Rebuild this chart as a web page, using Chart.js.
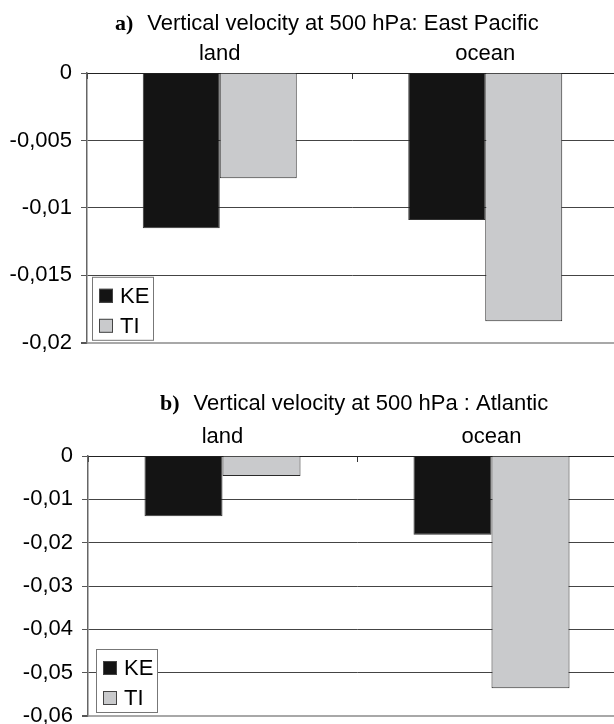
<!DOCTYPE html>
<html>
<head>
<meta charset="utf-8">
<script src="https://cdn.jsdelivr.net/npm/chart.js@4/dist/chart.umd.min.js"></script>
<style>
  html, body { margin: 0; padding: 0; background: #fff; }
  #wrap { position: relative; width: 614px; height: 724px; overflow: hidden; background: #fff; }
  #cA { position: absolute; left: 0; top: 0; }
  #cB { position: absolute; left: 0; top: 370px; }
</style>
</head>
<body>
<div id="wrap">
  <canvas id="cA" width="622" height="365"></canvas>
  <canvas id="cB" width="630" height="370"></canvas>
</div>
<script>
// ---- data ----
const categories = ['land', 'ocean'];
const seriesNames = ['KE', 'TI'];
const keEastPacific = [-0.0115, -0.0109];
const tiEastPacific = [-0.0078, -0.0184];
const keAtlantic = [-0.0139, -0.0182];
const tiAtlantic = [-0.0046, -0.0536];
const yTicksA = ['-0,02', '-0,015', '-0,01', '-0,005', '0'];
const yTicksB = ['-0,06', '-0,05', '-0,04', '-0,03', '-0,02', '-0,01', '0'];
const titleA = ['a)', 'Vertical velocity at 500 hPa: East Pacific'];
const titleB = ['b)', 'Vertical velocity at 500 hPa : Atlantic'];

const SANS = '"Liberation Sans", Arial, Helvetica, sans-serif';
const FS = 22;
Chart.defaults.font.family = SANS;
Chart.defaults.font.size = FS;
Chart.defaults.color = '#000';

const panelDecor = {
  id: 'panelDecor',
  afterDraw(chart, args, opts) {
    const ctx = chart.ctx, ca = chart.chartArea;
    ctx.save();
    ctx.textAlign = 'left';
    ctx.textBaseline = 'alphabetic';
    ctx.fillStyle = '#000';
    ctx.font = 'bold 22px "Liberation Serif", "Times New Roman", serif';
    ctx.fillText(opts.tag, opts.titleX, opts.titleY);
    const w = ctx.measureText(opts.tag).width;
    ctx.font = FS + 'px ' + SANS;
    ctx.fillText(opts.title, opts.titleX + w + 14, opts.titleY);
    // legend box
    const bw = 61, bh = 63;
    const bx = ca.left + opts.legDx, by = ca.bottom - opts.legDy - bh;
    ctx.fillStyle = '#fff';
    ctx.fillRect(bx, by, bw, bh);
    ctx.strokeStyle = '#777';
    ctx.lineWidth = 1;
    ctx.strokeRect(bx + 0.5, by + 0.5, bw, bh);
    chart.data.datasets.forEach((ds, i) => {
      const cy = by + 19 + i * 30;
      ctx.fillStyle = ds.backgroundColor;
      ctx.fillRect(bx + 7, cy - 7, 14, 14);
      ctx.strokeStyle = '#444';
      ctx.strokeRect(bx + 7.5, cy - 6.5, 13, 13);
      ctx.fillStyle = '#000';
      ctx.textBaseline = 'middle';
      ctx.font = FS + 'px ' + SANS;
      ctx.fillText(ds.label, bx + 28, cy + 1);
    });
    ctx.restore();
  }
};

function makeChart(id, ke, ti, yMin, step, yLabels, title, axisW, pad, deco) {
  return new Chart(document.getElementById(id), {
    type: 'bar',
    data: {
      labels: categories,
      datasets: [
        { label: seriesNames[0], data: ke, backgroundColor: '#141414', borderColor: '#333', borderWidth: 1,
          categoryPercentage: 0.58, barPercentage: 1.0 },
        { label: seriesNames[1], data: ti, backgroundColor: '#c9cacc', borderColor: '#2a2a2a', borderWidth: 1,
          categoryPercentage: 0.58, barPercentage: 1.0 }
      ]
    },
    options: {
      responsive: false,
      devicePixelRatio: 1,
      animation: false,
      layout: { padding: pad },
      plugins: {
        legend: { display: false },
        tooltip: { enabled: false },
        title: { display: false },
        panelDecor: Object.assign({ tag: title[0], title: title[1] }, deco)
      },
      scales: {
        x: {
          position: 'top',
          offset: true,
          afterFit: (s) => { s.height = 40; },
          grid: { display: true, offset: true, drawOnChartArea: false, drawTicks: true,
                  tickLength: -6, color: '#333', tickColor: '#333' },
          border: { display: true, color: '#222', width: 1 },
          ticks: { padding: 12, color: '#000', font: { size: FS } }
        },
        y: {
          min: yMin, max: 0,
          afterFit: (s) => { s.width = axisW; },
          ticks: { stepSize: step, padding: 9, color: '#000', font: { size: FS },
                   callback: (v, i) => yLabels[i] },
          grid: {
            drawTicks: true, tickLength: 6, tickColor: '#555',
            color: (c) => (c.tick && c.tick.value === yMin) ? '#a8a8a8' : '#444',
            lineWidth: (c) => (c.tick && c.tick.value === yMin) ? 2 : 1
          },
          border: { display: true, color: '#666', width: 1.5 }
        }
      }
    },
    plugins: [panelDecor]
  });
}

makeChart('cA', keEastPacific, tiEastPacific, -0.02, 0.005, yTicksA, titleA, 87,
  { top: 33, bottom: 15, left: 0, right: 4 },
  { titleX: 115, titleY: 30, legDx: 5, legDy: 3 });

makeChart('cB', keAtlantic, tiAtlantic, -0.06, 0.01, yTicksB, titleB, 88,
  { top: 46, bottom: 24, left: 0, right: 4 },
  { titleX: 160, titleY: 40, legDx: 8, legDy: 4 });
</script>
</body>
</html>
